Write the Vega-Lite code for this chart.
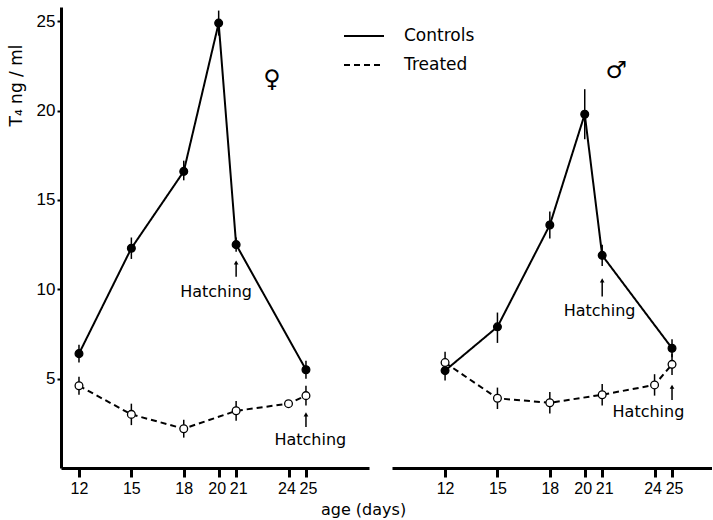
{
  "$schema": "https://vega.github.io/schema/vega-lite/v6.json",
  "padding": {"left": 7, "top": 7, "right": 0, "bottom": 0},
  "background": "white",
  "spacing": 23,
  "config": {
    "view": {"stroke": null},
    "font": "DejaVu Sans",
    "axis": {"grid": false, "domainColor": "black", "tickColor": "black", "labelColor": "black", "titleColor": "black", "labelFont": "Liberation Sans", "titleFont": "DejaVu Sans", "labelOverlap": false},
    "legend": {"orient": "none", "legendX": 282, "legendY": 8}
  },
  "title": {"text": "age  (days)", "orient": "bottom", "anchor": "middle", "fontSize": 16, "fontWeight": "normal", "font": "DejaVu Sans", "color": "black", "offset": 6, "dx": 4},
  "datasets": {
    "series": [
      {"sex": "F", "group": "Controls", "day": 12, "t4": 6.4, "lo": 5.9, "hi": 6.9},
      {"sex": "F", "group": "Controls", "day": 15, "t4": 12.3, "lo": 11.7, "hi": 12.9},
      {"sex": "F", "group": "Controls", "day": 18, "t4": 16.6, "lo": 16.1, "hi": 17.2},
      {"sex": "F", "group": "Controls", "day": 20, "t4": 24.9, "lo": 24.2, "hi": 25.6},
      {"sex": "F", "group": "Controls", "day": 21, "t4": 12.5, "lo": 12.1, "hi": 12.9},
      {"sex": "F", "group": "Controls", "day": 25, "t4": 5.5, "lo": 5.0, "hi": 6.0},
      {"sex": "F", "group": "Treated", "day": 12, "t4": 4.6, "lo": 4.1, "hi": 5.1},
      {"sex": "F", "group": "Treated", "day": 15, "t4": 3.0, "lo": 2.4, "hi": 3.6},
      {"sex": "F", "group": "Treated", "day": 18, "t4": 2.2, "lo": 1.7, "hi": 2.7},
      {"sex": "F", "group": "Treated", "day": 21, "t4": 3.2, "lo": 2.65, "hi": 3.75},
      {"sex": "F", "group": "Treated", "day": 24, "t4": 3.6, "lo": 3.6, "hi": 3.6},
      {"sex": "F", "group": "Treated", "day": 25, "t4": 4.05, "lo": 3.5, "hi": 4.6},
      {"sex": "M", "group": "Controls", "day": 12, "t4": 5.45, "lo": 4.9, "hi": 6.0},
      {"sex": "M", "group": "Controls", "day": 15, "t4": 7.9, "lo": 7.0, "hi": 8.7},
      {"sex": "M", "group": "Controls", "day": 18, "t4": 13.6, "lo": 12.85, "hi": 14.35},
      {"sex": "M", "group": "Controls", "day": 20, "t4": 19.8, "lo": 18.4, "hi": 21.2},
      {"sex": "M", "group": "Controls", "day": 21, "t4": 11.9, "lo": 11.3, "hi": 12.5},
      {"sex": "M", "group": "Controls", "day": 25, "t4": 6.7, "lo": 6.2, "hi": 7.2},
      {"sex": "M", "group": "Treated", "day": 12, "t4": 5.9, "lo": 5.3, "hi": 6.5},
      {"sex": "M", "group": "Treated", "day": 15, "t4": 3.9, "lo": 3.3, "hi": 4.5},
      {"sex": "M", "group": "Treated", "day": 18, "t4": 3.65, "lo": 3.05, "hi": 4.25},
      {"sex": "M", "group": "Treated", "day": 21, "t4": 4.1, "lo": 3.5, "hi": 4.7},
      {"sex": "M", "group": "Treated", "day": 24, "t4": 4.65, "lo": 4.05, "hi": 5.25},
      {"sex": "M", "group": "Treated", "day": 25, "t4": 5.8, "lo": 5.2, "hi": 6.4}
    ],
    "notes": [
      {"sex": "F", "label": "Hatching", "x": 19.85, "y": 9.85},
      {"sex": "F", "label": "Hatching", "x": 25.25, "y": 1.57},
      {"sex": "M", "label": "Hatching", "x": 20.85, "y": 8.76},
      {"sex": "M", "label": "Hatching", "x": 23.65, "y": 3.14}
    ],
    "arrows": [
      {"sex": "F", "x": 21, "tip": 11.5, "base": 10.7},
      {"sex": "F", "x": 25, "tip": 3.0, "base": 2.3},
      {"sex": "M", "x": 21, "tip": 10.5, "base": 9.6},
      {"sex": "M", "x": 25, "tip": 4.55, "base": 3.8}
    ],
    "symbols": [
      {"sex": "F", "label": "♀", "x": 23.05, "y": 21.7},
      {"sex": "M", "label": "♂", "x": 21.8, "y": 22.2}
    ]
  },
  "hconcat": [
    {
      "width": 308,
      "height": 461,
      "layer": [
        {
          "data": {"name": "series"},
          "transform": [{"filter": "datum.sex === 'F'"}],
          "mark": {"type": "line", "strokeWidth": 2, "color": "black"},
          "encoding": {
            "x": {"field": "day", "type": "quantitative", "scale": {"domain": [10.97, 28.61], "nice": false, "zero": false},
              "axis": {"title": null, "values": [12, 15, 18, 20, 21, 24, 25], "domainWidth": 3, "tickWidth": 3, "tickSize": 9, "labelFontSize": 16, "labelPadding": 3,
                "labelOffset": {"condition": [{"test": "datum.value == 20 || datum.value == 24", "value": -2}, {"test": "datum.value == 21 || datum.value == 25", "value": 2}], "value": 0}}},
            "y": {"field": "t4", "type": "quantitative", "scale": {"domain": [0, 25.8], "nice": false},
              "axis": {"title": "T₄   ng / ml", "titleFontSize": 17, "titleFontWeight": "normal", "titlePadding": 11, "titleY": 78, "values": [5, 10, 15, 20, 25], "domainWidth": 3, "tickWidth": 2, "tickSize": 4, "labelFontSize": 17, "labelPadding": 2}},
            "strokeDash": {"field": "group", "type": "nominal", "scale": {"domain": ["Controls", "Treated"], "range": [[1, 0], [6, 4]]},
              "legend": {"title": null, "symbolType": "stroke", "symbolSize": 1600, "symbolStrokeWidth": 2, "symbolStrokeColor": "black", "labelFontSize": 17, "labelFont": "DejaVu Sans", "labelColor": "black", "labelOffset": 19, "rowPadding": 0}}
          }
        },
        {
          "data": {"name": "series"},
          "transform": [{"filter": "datum.sex === 'F'"}],
          "mark": {"type": "rule", "strokeWidth": 1.5, "color": "black"},
          "encoding": {"x": {"field": "day", "type": "quantitative"}, "y": {"field": "lo", "type": "quantitative"}, "y2": {"field": "hi"}}
        },
        {
          "data": {"name": "series"},
          "transform": [{"filter": "datum.sex === 'F'"}],
          "mark": {"type": "point", "filled": true, "size": 60, "stroke": "black", "strokeWidth": 1.3, "opacity": 1},
          "encoding": {"x": {"field": "day", "type": "quantitative"}, "y": {"field": "t4", "type": "quantitative"},
            "fill": {"field": "group", "type": "nominal", "scale": {"domain": ["Controls", "Treated"], "range": ["black", "white"]}, "legend": null}}
        },
        {
          "data": {"name": "notes"},
          "transform": [{"filter": "datum.sex === 'F'"}],
          "mark": {"type": "text", "fontSize": 16, "color": "black", "align": "center", "baseline": "middle"},
          "encoding": {"x": {"field": "x", "type": "quantitative"}, "y": {"field": "y", "type": "quantitative"}, "text": {"field": "label"}}
        },
        {
          "data": {"name": "arrows"},
          "transform": [{"filter": "datum.sex === 'F'"}],
          "mark": {"type": "rule", "strokeWidth": 1.5, "color": "black"},
          "encoding": {"x": {"field": "x", "type": "quantitative"}, "y": {"field": "base", "type": "quantitative"}, "y2": {"field": "tip"}}
        },
        {
          "data": {"name": "arrows"},
          "transform": [{"filter": "datum.sex === 'F'"}],
          "mark": {"type": "point", "shape": "triangle-up", "filled": true, "size": 22, "color": "black", "opacity": 1},
          "encoding": {"x": {"field": "x", "type": "quantitative"}, "y": {"field": "tip", "type": "quantitative"}}
        },
        {
          "data": {"name": "symbols"},
          "transform": [{"filter": "datum.sex === 'F'"}],
          "mark": {"type": "text", "fontSize": 24, "color": "black", "align": "center", "baseline": "middle"},
          "encoding": {"x": {"field": "x", "type": "quantitative"}, "y": {"field": "y", "type": "quantitative"}, "text": {"field": "label"}}
        }
      ]
    },
    {
      "width": 320,
      "height": 461,
      "layer": [
        {
          "data": {"name": "series"},
          "transform": [{"filter": "datum.sex === 'M'"}],
          "mark": {"type": "line", "strokeWidth": 2, "color": "black"},
          "encoding": {
            "x": {"field": "day", "type": "quantitative", "scale": {"domain": [8.96, 27.29], "nice": false, "zero": false},
              "axis": {"title": null, "values": [12, 15, 18, 20, 21, 24, 25], "domainWidth": 3, "tickWidth": 3, "tickSize": 9, "labelFontSize": 16, "labelPadding": 3,
                "labelOffset": {"condition": [{"test": "datum.value == 20 || datum.value == 24", "value": -2}, {"test": "datum.value == 21 || datum.value == 25", "value": 2}], "value": 0}}},
            "y": {"field": "t4", "type": "quantitative", "scale": {"domain": [0, 25.8], "nice": false}, "axis": null},
            "strokeDash": {"field": "group", "type": "nominal", "scale": {"domain": ["Controls", "Treated"], "range": [[1, 0], [6, 4]]}, "legend": null}
          }
        },
        {
          "data": {"name": "series"},
          "transform": [{"filter": "datum.sex === 'M'"}],
          "mark": {"type": "rule", "strokeWidth": 1.5, "color": "black"},
          "encoding": {"x": {"field": "day", "type": "quantitative"}, "y": {"field": "lo", "type": "quantitative"}, "y2": {"field": "hi"}}
        },
        {
          "data": {"name": "series"},
          "transform": [{"filter": "datum.sex === 'M'"}],
          "mark": {"type": "point", "filled": true, "size": 60, "stroke": "black", "strokeWidth": 1.3, "opacity": 1},
          "encoding": {"x": {"field": "day", "type": "quantitative"}, "y": {"field": "t4", "type": "quantitative"},
            "fill": {"field": "group", "type": "nominal", "scale": {"domain": ["Controls", "Treated"], "range": ["black", "white"]}, "legend": null}}
        },
        {
          "data": {"name": "notes"},
          "transform": [{"filter": "datum.sex === 'M'"}],
          "mark": {"type": "text", "fontSize": 16, "color": "black", "align": "center", "baseline": "middle"},
          "encoding": {"x": {"field": "x", "type": "quantitative"}, "y": {"field": "y", "type": "quantitative"}, "text": {"field": "label"}}
        },
        {
          "data": {"name": "arrows"},
          "transform": [{"filter": "datum.sex === 'M'"}],
          "mark": {"type": "rule", "strokeWidth": 1.5, "color": "black"},
          "encoding": {"x": {"field": "x", "type": "quantitative"}, "y": {"field": "base", "type": "quantitative"}, "y2": {"field": "tip"}}
        },
        {
          "data": {"name": "arrows"},
          "transform": [{"filter": "datum.sex === 'M'"}],
          "mark": {"type": "point", "shape": "triangle-up", "filled": true, "size": 22, "color": "black", "opacity": 1},
          "encoding": {"x": {"field": "x", "type": "quantitative"}, "y": {"field": "tip", "type": "quantitative"}}
        },
        {
          "data": {"name": "symbols"},
          "transform": [{"filter": "datum.sex === 'M'"}],
          "mark": {"type": "text", "fontSize": 24, "color": "black", "align": "center", "baseline": "middle"},
          "encoding": {"x": {"field": "x", "type": "quantitative"}, "y": {"field": "y", "type": "quantitative"}, "text": {"field": "label"}}
        }
      ]
    }
  ]
}
